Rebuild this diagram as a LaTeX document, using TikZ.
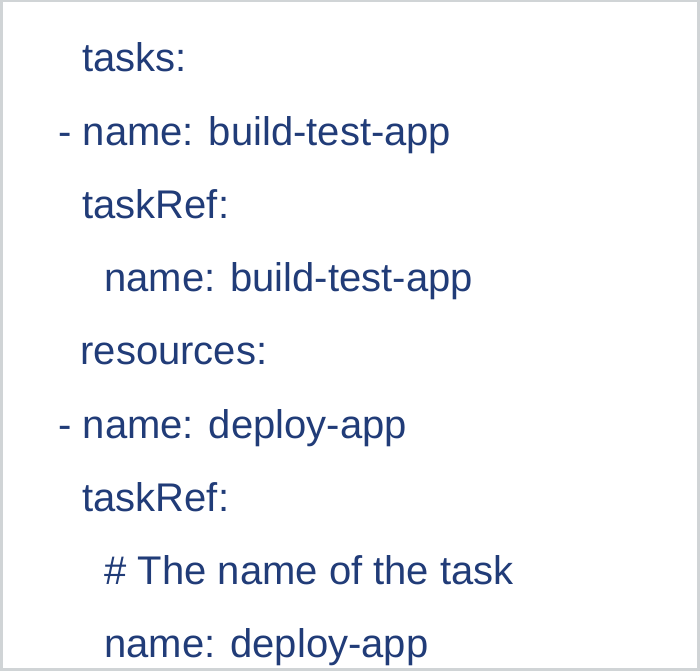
\documentclass[tikz,border=0pt]{standalone}
\usepackage{fontspec}
\setmainfont{Liberation Sans}
\definecolor{codeblue}{RGB}{33,60,120}
\definecolor{framegray}{RGB}{208,212,214}
\begin{document}
\begin{tikzpicture}[x=1pt,y=-1pt,
  codeline/.style={anchor=base west,inner sep=0pt,outer sep=0pt,text=codeblue,
    font=\fontsize{40}{48}\selectfont}]
\useasboundingbox (0,0) rectangle (700,671);
\fill[framegray] (0,0) rectangle (700,671);
\fill[white] (2.5,2.5) rectangle (697,668);
\node[codeline] (l1) at (82.5,72.0)  {tasks:};
\node[codeline] (l2) at (58.5,145.2) {- name: build-test-app};
\node[codeline] (l3) at (82.5,218.4) {taskRef:};
\node[codeline] (l4) at (104.5,291.6) {name: build-test-app};
\node[codeline] (l5) at (80.5,364.8) {resources:};
\node[codeline] (l6) at (58.5,438.0) {- name: deploy-app};
\node[codeline] (l7) at (82.5,511.2) {taskRef:};
\node[codeline] (l8) at (104.5,584.4) {\# The name of the task};
\node[codeline] (l9) at (104.5,657.4) {name: deploy-app};
\end{tikzpicture}
\end{document}
